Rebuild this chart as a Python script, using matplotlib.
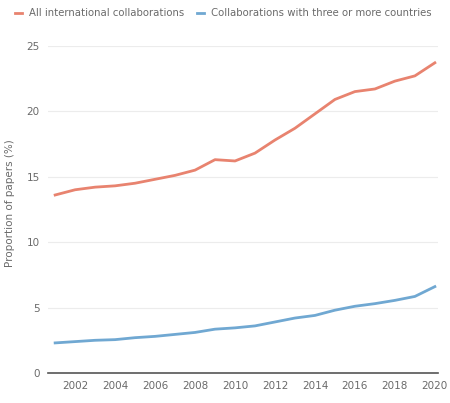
import numpy as np
import matplotlib
matplotlib.use("Agg")
import matplotlib.pyplot as plt

years = np.arange(2001, 2021)
all_intl = [13.6, 14.0, 14.2, 14.3, 14.5, 14.8, 15.1, 15.5, 16.3, 16.2,
            16.8, 17.8, 18.7, 19.8, 20.9, 21.5, 21.7, 22.3, 22.7, 23.7]
three_plus = [2.3, 2.4, 2.5, 2.55, 2.7, 2.8, 2.95, 3.1, 3.35, 3.45,
              3.6, 3.9, 4.2, 4.4, 4.8, 5.1, 5.3, 5.55, 5.85, 6.6]
series_names = ["All international collaborations",
                "Collaborations with three or more countries"]
xticks = list(range(2002, 2021, 2))
yticks = [0, 5, 10, 15, 20, 25]

txt = "#6a6a6a"
fig = plt.figure(figsize=(4.5, 4.03), dpi=100)
ax = fig.add_axes([0.107, 0.0744, 0.866, 0.812])

ax.plot(years, all_intl, color="#e8836f", lw=2.0, label=series_names[0])
ax.plot(years, three_plus, color="#70a8d2", lw=2.0, label=series_names[1])

ax.set_xlim(2000.65, 2020.15)
ax.set_ylim(0, 25)
ax.set_xticks(xticks)
ax.set_yticks(yticks)
ax.grid(axis="y", color="#ececec", lw=0.8)
ax.set_axisbelow(True)
for s in ["top", "right", "left"]:
    ax.spines[s].set_visible(False)
ax.spines["bottom"].set_color("#555555")
ax.spines["bottom"].set_linewidth(1.2)
ax.tick_params(axis="both", length=0, labelsize=7.5, labelcolor=txt, pad=6)
ax.set_ylabel("Proportion of papers (%)", fontsize=7.5, color=txt)
ax.yaxis.set_label_coords(-0.085, 0.52)

fig.legend(loc="upper left", bbox_to_anchor=(0.02, 0.995), ncol=2, frameon=False,
           fontsize=7.3, labelcolor=txt, handlelength=0.7, handletextpad=0.7,
           columnspacing=1.2, borderaxespad=0.2)

fig.savefig("out.png", dpi=100)
